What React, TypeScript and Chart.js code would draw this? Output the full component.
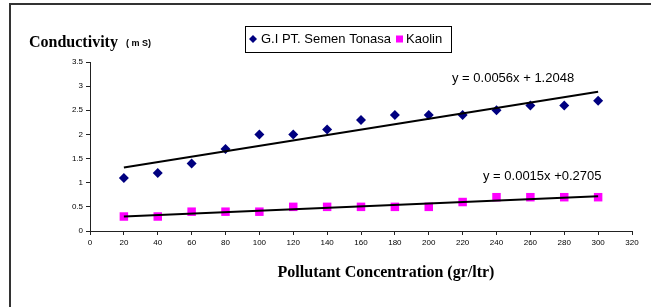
import React, { useEffect, useRef } from "react";
import { Chart, registerables } from "chart.js";

Chart.register(...registerables);

const concentrations = [20, 40, 60, 80, 100, 120, 140, 160, 180, 200, 220, 240, 260, 280, 300];
const semenTonasa = [1.1, 1.2, 1.4, 1.7, 2.0, 2.0, 2.1, 2.3, 2.4, 2.4, 2.4, 2.5, 2.6, 2.6, 2.7];
const kaolin = [0.3, 0.3, 0.4, 0.4, 0.4, 0.5, 0.5, 0.5, 0.5, 0.5, 0.6, 0.7, 0.7, 0.7, 0.7];

// trendline coefficients as printed on the chart
const trendSemen = { slope: 0.0056, intercept: 1.2048 };
const trendKaolin = { slope: 0.0015, intercept: 0.2705 };
const trendRange = [20, 300];

const seriesNames = ["G.I PT. Semen Tonasa", "Kaolin"];
const equationTexts = ["y = 0.0056x + 1.2048", "y = 0.0015x +0.2705"];
const yTitle = "Conductivity";
const yUnit = "( m S)";
const xTitle = "Pollutant Concentration (gr/ltr)";

const NAVY = "#000080";
const MAGENTA = "#FF00FF";
const SANS = "'Liberation Sans', Arial, sans-serif";
const SERIF = "'Liberation Serif', 'Times New Roman', serif";

const toPoints = (xs: number[], ys: number[]) => xs.map((x, i) => ({ x, y: ys[i] }));
const trendPoints = (t: { slope: number; intercept: number }) =>
  trendRange.map((x) => ({ x, y: t.slope * x + t.intercept }));

const decorPlugin = {
  id: "decor",
  afterDraw(chart: any) {
    const ctx = chart.ctx;
    ctx.save();
    // outer frame
    ctx.strokeStyle = "#333";
    ctx.lineWidth = 2;
    ctx.beginPath();
    ctx.moveTo(10, 307);
    ctx.lineTo(10, 4);
    ctx.lineTo(651, 4);
    ctx.stroke();

    // titles
    ctx.fillStyle = "#000";
    ctx.textBaseline = "alphabetic";
    ctx.textAlign = "left";
    ctx.font = `bold 16px ${SERIF}`;
    ctx.fillText(yTitle, 29, 47);
    ctx.font = `bold 9px ${SANS}`;
    ctx.fillText(yUnit, 126, 46);
    ctx.font = `bold 16px ${SERIF}`;
    ctx.textAlign = "center";
    ctx.fillText(xTitle, 386, 277);

    // equations
    ctx.textAlign = "left";
    ctx.textBaseline = "middle";
    ctx.font = `13px ${SANS}`;
    ctx.fillText(equationTexts[0], 452, 78);
    ctx.fillText(equationTexts[1], 483, 176);

    // legend box
    ctx.fillStyle = "#fff";
    ctx.fillRect(245, 26, 206, 26);
    ctx.strokeStyle = "#000";
    ctx.lineWidth = 1;
    ctx.strokeRect(245.5, 26.5, 206, 26);
    const ly = 39;
    ctx.fillStyle = NAVY;
    ctx.beginPath();
    ctx.moveTo(249, ly);
    ctx.lineTo(253, ly - 4);
    ctx.lineTo(257, ly);
    ctx.lineTo(253, ly + 4);
    ctx.closePath();
    ctx.fill();
    ctx.fillStyle = "#000";
    ctx.font = `13px ${SANS}`;
    ctx.fillText(seriesNames[0], 261, ly);
    ctx.fillStyle = MAGENTA;
    ctx.fillRect(396, ly - 3.5, 7, 7);
    ctx.fillStyle = "#000";
    ctx.fillText(seriesNames[1], 406, ly);
    ctx.restore();
  },
};

export default function App() {
  const ref = useRef<HTMLCanvasElement>(null);
  useEffect(() => {
    if (!ref.current) return;
    const tickFont = { family: SANS, size: 8 };
    const chart = new Chart(ref.current, {
      type: "scatter",
      data: {
        datasets: [
          {
            label: "trend1",
            type: "line",
            data: trendPoints(trendSemen),
            borderColor: "#000",
            borderWidth: 2,
            pointRadius: 0,
            fill: false,
            order: 0,
          },
          {
            label: "trend2",
            type: "line",
            data: trendPoints(trendKaolin),
            borderColor: "#000",
            borderWidth: 2,
            pointRadius: 0,
            fill: false,
            order: 0,
          },
          {
            label: seriesNames[0],
            data: toPoints(concentrations, semenTonasa),
            pointStyle: "rectRot",
            pointRadius: 5,
            backgroundColor: NAVY,
            borderColor: NAVY,
            borderWidth: 0,
            order: 1,
          },
          {
            label: seriesNames[1],
            data: toPoints(concentrations, kaolin),
            pointStyle: "rect",
            pointRadius: 6,
            backgroundColor: MAGENTA,
            borderColor: MAGENTA,
            borderWidth: 0,
            order: 1,
          },
        ],
      } as any,
      options: {
        animation: false,
        responsive: false,
        devicePixelRatio: 1,
        layout: { padding: { left: 60, top: 62, right: 19, bottom: 56 } },
        plugins: { legend: { display: false }, tooltip: { enabled: false } },
        scales: {
          x: {
            type: "linear",
            min: 0,
            max: 320,
            afterFit: (s: any) => {
              s.height = 20;
            },
            ticks: {
              stepSize: 20,
              color: "#000",
              font: tickFont,
              padding: 3,
              maxRotation: 0,
              autoSkip: false,
              callback: (v: any) => String(v),
            },
            grid: { drawOnChartArea: false, drawTicks: true, tickLength: 4, color: "#222" },
            border: { color: "#222", width: 1 },
          },
          y: {
            type: "linear",
            min: 0,
            max: 3.5,
            afterFit: (s: any) => {
              s.width = 30;
            },
            ticks: { stepSize: 0.5, color: "#000", font: tickFont, padding: 3, callback: (v: any) => String(v) },
            grid: { drawOnChartArea: false, drawTicks: true, tickLength: 4, color: "#222" },
            border: { color: "#222", width: 1 },
          },
        },
      } as any,
      plugins: [decorPlugin],
    });
    return () => chart.destroy();
  }, []);
  return (
    <div style={{ position: "absolute", left: 0, top: 0, width: 651, height: 307, background: "#fff" }}>
      <canvas ref={ref} width={651} height={307} style={{ display: "block", width: 651, height: 307 }} />
    </div>
  );
}
